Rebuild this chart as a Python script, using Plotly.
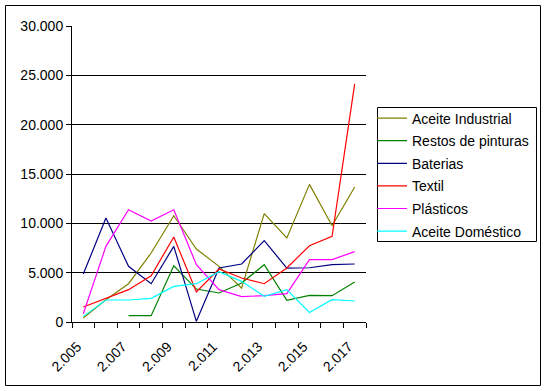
import plotly.graph_objects as go

years = list(range(2005, 2018))
tick_years = [2005, 2007, 2009, 2011, 2013, 2015, 2017]
tick_labels = ["2.005", "2.007", "2.009", "2.011", "2.013", "2.015", "2.017"]
y_ticks = [0, 5000, 10000, 15000, 20000, 25000, 30000]
y_labels = ["0", "5.000", "10.000", "15.000", "20.000", "25.000", "30.000"]

aceite_industrial = [400, 2260, 3880, 6990, 10770, 7400, 5640, 3440, 10980, 8510, 13950, 9760, 13680]
restos_pinturas = [None, None, 640, 640, 5700, 3340, 2940, 3950, 5810, 2200, 2700, 2670, 4050]
baterias = [4860, 10540, 5640, 3880, 7670, 70, 5470, 5880, 8240, 5470, 5500, 5810, 5880]
textil = [1520, 2360, 3280, 4690, 8610, 3040, 5370, 4460, 3880, 5470, 7730, 8680, 24140]
plasticos = [840, 7670, 11380, 10230, 11380, 5810, 3280, 2570, 2670, 2870, 6320, 6320, 7130]
aceite_domestico = [570, 2230, 2230, 2400, 3610, 3880, 5100, 4120, 2600, 3280, 970, 2260, 2130]

series = [
    ("Aceite Industrial", aceite_industrial, "#808000"),
    ("Restos de pinturas", restos_pinturas, "#008000"),
    ("Baterias", baterias, "#000080"),
    ("Textil", textil, "#FF0000"),
    ("Plásticos", plasticos, "#FF00FF"),
    ("Aceite Doméstico", aceite_domestico, "#00FFFF"),
]

fig = go.Figure()
for i, (name, vals, col) in enumerate(series):
    fig.add_trace(go.Scatter(
        x=years, y=vals, name=name, mode="lines",
        line=dict(color=col, width=1.2),
        legendgroup=f"g{i}",
    ))

W, H = 546, 391
L, R, T, B = 72, 366, 26, 322
pw, ph = R - L, B - T

def px(x):
    return (x - L) / pw

def py(y):
    return (B - y) / ph

fig.update_layout(
    width=W, height=H,
    margin=dict(l=L, r=W - R, t=T, b=H - B, autoexpand=False),
    paper_bgcolor="white", plot_bgcolor="white",
    font=dict(family="Arial, Liberation Sans, sans-serif", size=14, color="black"),
    showlegend=True,
    legend=dict(
        x=px(372), y=py(102.5), xanchor="left", yanchor="top",
        borderwidth=0, bgcolor="rgba(0,0,0,0)",
        font=dict(size=14), tracegroupgap=1.4,
        itemwidth=30,
    ),
    xaxis=dict(
        range=[2004.5, 2017.5],
        tickmode="array", tickvals=tick_years, ticktext=tick_labels,
        tickangle=-45, ticks="", showgrid=False, zeroline=False,
        showline=True, linecolor="black", linewidth=1,
        tickfont=dict(size=14), automargin=False,
        ticklabelstandoff=10, ticklabelshift=-6,
        minor=dict(tickmode="linear", tick0=2004.5, dtick=1, ticks="outside",
                   ticklen=5, tickcolor="black", showgrid=False),
    ),
    yaxis=dict(
        range=[0, 30000],
        tickmode="array", tickvals=y_ticks, ticktext=y_labels,
        ticks="outside", ticklen=5, tickcolor="black",
        showgrid=True, gridcolor="black", gridwidth=1,
        zeroline=False, showline=True, linecolor="black", linewidth=1,
        tickfont=dict(size=14), automargin=False,
    ),
    shapes=[
        dict(type="rect", xref="paper", yref="paper",
             x0=px(5.5), x1=px(540.5), y0=py(385.5), y1=py(5.5),
             line=dict(color="black", width=1), fillcolor="rgba(0,0,0,0)",
             layer="below"),
        dict(type="rect", xref="paper", yref="paper",
             x0=px(377.5), x1=px(536.5), y0=py(241.5), y1=py(107.5),
             line=dict(color="black", width=1), fillcolor="rgba(0,0,0,0)",
             layer="above"),
    ],
)

fig.write_html("out.html", config={"displayModeBar": False},
               post_script="document.body.style.margin='0';document.body.style.overflow='hidden';")
